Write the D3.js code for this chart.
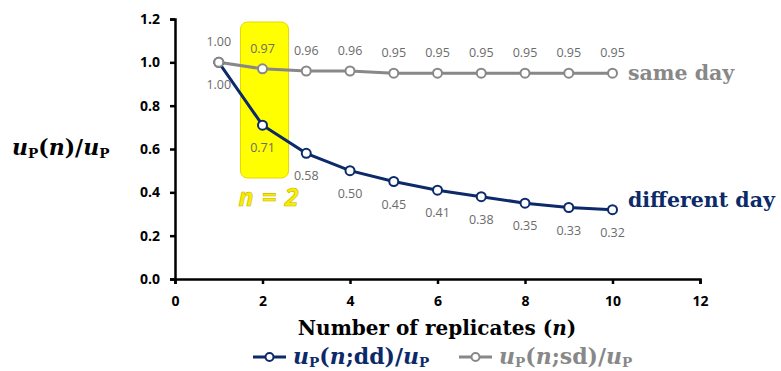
<!DOCTYPE html>
<html>
<head>
<meta charset="utf-8">
<script src="https://cdn.jsdelivr.net/npm/d3@7"></script>
<style>
  body { margin: 0; background: #fff; }
  svg { display: block; }
</style>
</head>
<body>
<svg width="781" height="371"></svg>
<script>
// replicates and the two ratio series
const nValues = [1, 2, 3, 4, 5, 6, 7, 8, 9, 10];
const diffDay = [1.00, 0.71, 0.58, 0.50, 0.45, 0.41, 0.38, 0.35, 0.33, 0.32];
const sameDay = [1.00, 0.97, 0.96, 0.96, 0.95, 0.95, 0.95, 0.95, 0.95, 0.95];
const xTicks = [0, 2, 4, 6, 8, 10, 12];
const yTicks = [0, 0.2, 0.4, 0.6, 0.8, 1.0, 1.2];
const highlightN = 2;

const navy = '#0c2a6a';
const grey = '#888888';

const svg = d3.select('svg');

const x = d3.scaleLinear().domain([0, 12]).range([175, 700]);
const y = d3.scaleLinear().domain([0, 1.2]).range([279, 19]);

// yellow box behind n = 2
svg.append('rect')
    .attr('x', x(highlightN) - 22).attr('width', 48)
    .attr('y', 22).attr('height', 156)
    .attr('rx', 7)
    .attr('fill', '#ffff00')
    .attr('stroke', '#e6d800').attr('stroke-width', 1);

svg.append('text')
    .attr('x', x(highlightN) + 6).attr('y', 206)
    .attr('text-anchor', 'middle')
    .style('font-family', 'Open Sans, sans-serif')
    .style('font-style', 'italic').style('font-weight', 'bold')
    .style('font-size', '25px')
    .style('word-spacing', '2px')
    .attr('fill', '#f8ec00').attr('stroke', '#c9b800').attr('stroke-width', 0.6)
    .text('n = 2');

// axes
const yAxis = svg.append('g')
    .attr('transform', `translate(${x(0)},0)`)
    .call(d3.axisLeft(y).tickValues(yTicks).tickFormat(d3.format('.1f')).tickSize(5).tickPadding(10));
const xAxis = svg.append('g')
    .attr('transform', `translate(0,${y(0)})`)
    .call(d3.axisBottom(x).tickValues(xTicks).tickFormat(d3.format('d')).tickSize(5).tickPadding(12));

[yAxis, xAxis].forEach(a => {
    a.select('.domain').attr('stroke', '#000').attr('stroke-width', 2.5);
    a.selectAll('.tick line').attr('stroke', '#000').attr('stroke-width', 2.5);
    a.selectAll('.tick text')
        .attr('fill', '#000')
        .style('font-family', 'Open Sans, sans-serif')
        .style('font-weight', 'bold')
        .style('font-size', '14px');
});

// series
const series = [
    { name: 'dd', values: diffDay, color: navy, dy: 27 },
    { name: 'sd', values: sameDay, color: grey, dy: -16 }
];

const line = d3.line().x((d, i) => x(nValues[i])).y(d => y(d));

series.forEach(s => {
    svg.append('path')
        .datum(s.values)
        .attr('d', line)
        .attr('fill', 'none')
        .attr('stroke', s.color)
        .attr('stroke-width', 3);
});

series.forEach(s => {
    svg.append('g').selectAll('circle')
        .data(s.values)
        .enter().append('circle')
        .attr('cx', (d, i) => x(nValues[i]))
        .attr('cy', d => y(d))
        .attr('r', 4.5)
        .attr('fill', '#fff')
        .attr('stroke', s.color)
        .attr('stroke-width', 2);

    svg.append('g').selectAll('text')
        .data(s.values)
        .enter().append('text')
        .attr('x', (d, i) => x(nValues[i]))
        .attr('y', d => y(d) + s.dy)
        .attr('text-anchor', 'middle')
        .attr('fill', '#6b6b6b')
        .style('font-family', 'Open Sans, sans-serif')
        .style('font-size', '12.5px')
        .text(d => d.toFixed(2));
});

// series names at the line ends
const serif = 'DejaVu Serif, serif';
svg.append('text')
    .attr('x', 628).attr('y', y(sameDay[9]) + 7)
    .attr('fill', grey)
    .style('font-family', serif).style('font-weight', 'bold').style('font-size', '20.5px')
    .text('same day');
svg.append('text')
    .attr('x', 628).attr('y', y(diffDay[9]) - 3)
    .attr('fill', navy)
    .style('font-family', serif).style('font-weight', 'bold').style('font-size', '20.5px')
    .text('different day');

// axis titles
svg.append('text')
    .attr('x', 437).attr('y', 335)
    .attr('text-anchor', 'middle')
    .style('font-family', serif).style('font-weight', 'bold').style('font-size', '20px')
    .call(t => {
        t.append('tspan').text('Number of replicates (');
        t.append('tspan').style('font-style', 'italic').text('n');
        t.append('tspan').text(')');
    });

// math-like label u_P(...)/u_P
function mathLabel(sel, inner) {
    sel.style('font-family', serif).style('font-weight', 'bold');
    sel.append('tspan').style('font-style', 'italic').text('u');
    sel.append('tspan').style('font-size', '0.62em').attr('dy', 3).text('P');
    sel.append('tspan').attr('dy', -3).text('(');
    inner(sel);
    sel.append('tspan').text(')/');
    sel.append('tspan').style('font-style', 'italic').text('u');
    sel.append('tspan').style('font-size', '0.62em').attr('dy', 3).text('P');
}

svg.append('text')
    .attr('x', 12).attr('y', 155)
    .style('font-size', '22px')
    .call(mathLabel, t => t.append('tspan').style('font-style', 'italic').text('n'))
    .attr('fill', '#000');

// legend
const legend = [
    { label: 'dd', color: navy, x: 253 },
    { label: 'sd', color: grey, x: 459 }
];
legend.forEach(l => {
    const g = svg.append('g');
    g.append('line')
        .attr('x1', l.x).attr('x2', l.x + 33)
        .attr('y1', 357).attr('y2', 357)
        .attr('stroke', l.color).attr('stroke-width', 3);
    g.append('circle')
        .attr('cx', l.x + 16.5).attr('cy', 357).attr('r', 4)
        .attr('fill', '#fff').attr('stroke', l.color).attr('stroke-width', 2);
    g.append('text')
        .attr('x', l.x + 40).attr('y', 364)
        .attr('fill', l.color)
        .style('font-size', '22px')
        .call(mathLabel, t => {
            t.append('tspan').style('font-style', 'italic').text('n');
            t.append('tspan').text(';' + l.label);
        });
});
</script>
</body>
</html>
